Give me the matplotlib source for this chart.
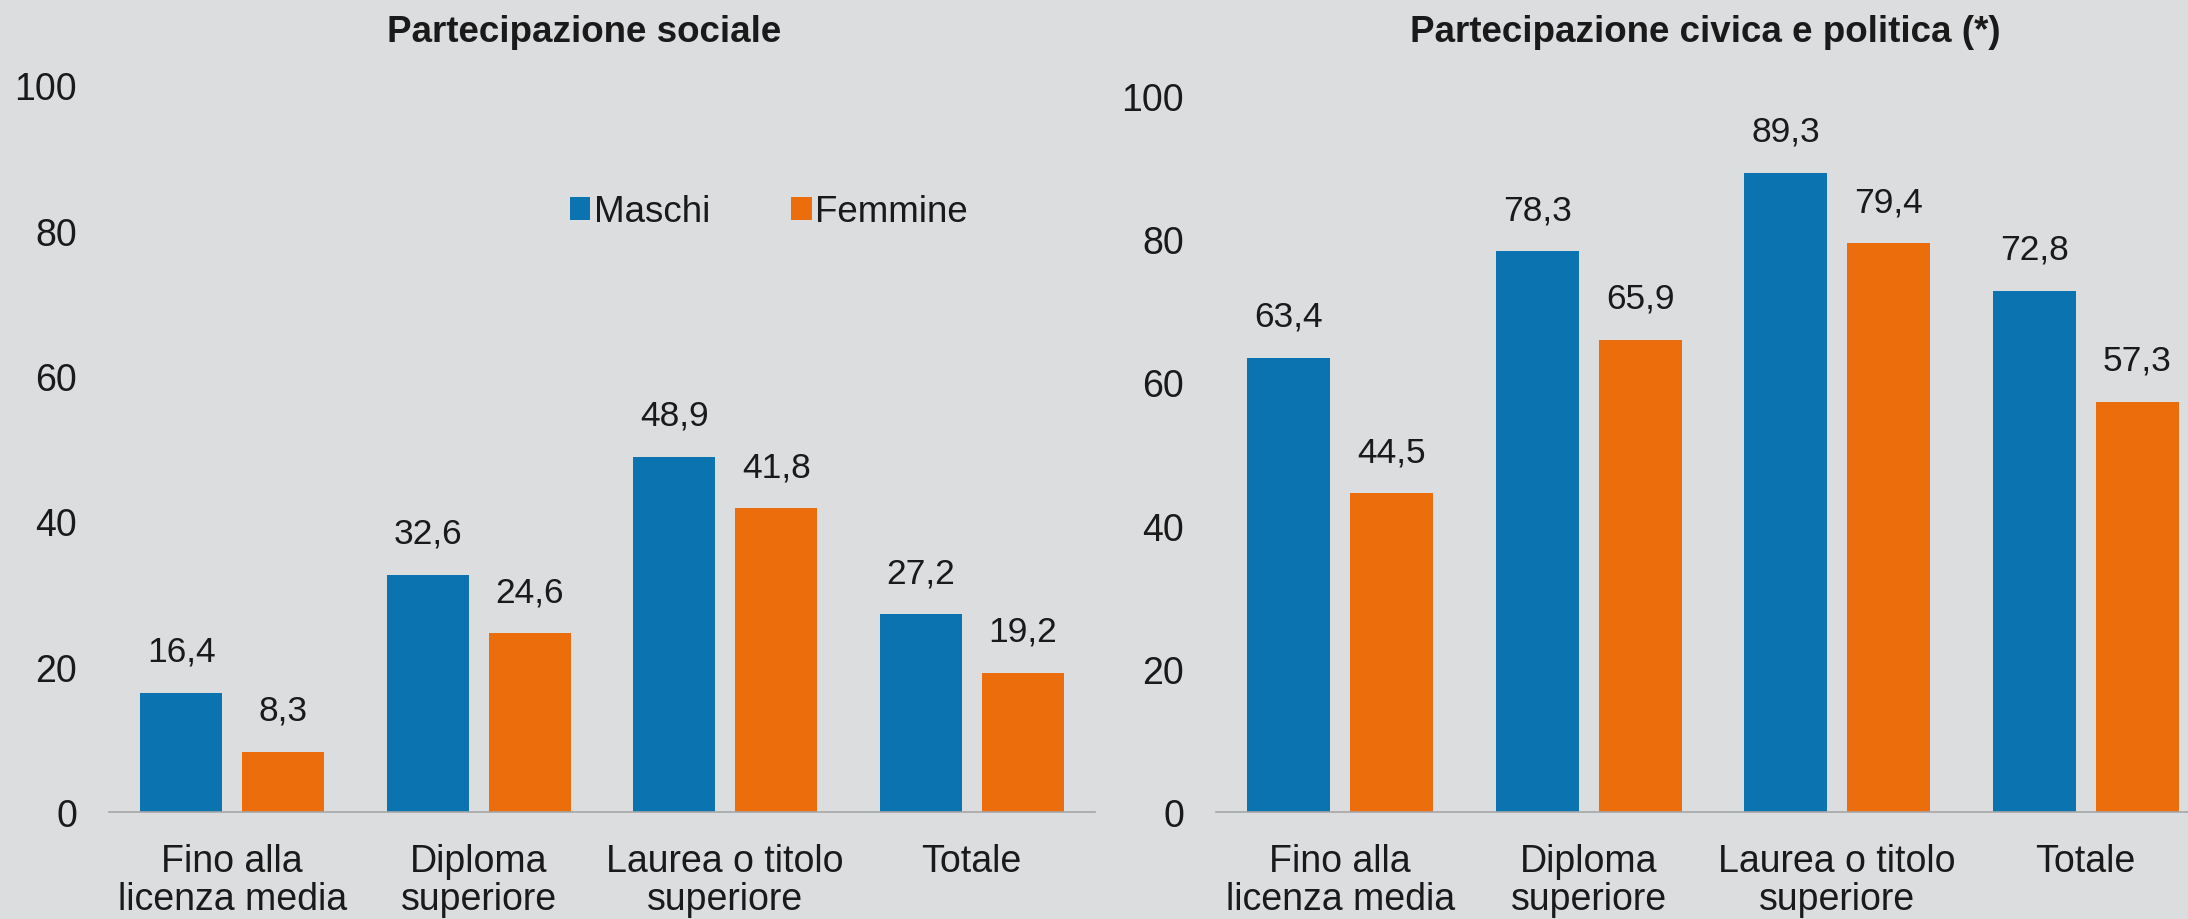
import matplotlib
matplotlib.use("Agg")
import matplotlib.pyplot as plt
import numpy as np

BG_COLOR   = "#dcdddf"
BLUE       = "#0a73b0"
ORANGE     = "#ec6d0b"
TEXT_COLOR = "#1a1a1a"
AXIS_COLOR = "#a6a6a6"

categories = ["Fino alla\nlicenza media", "Diploma\nsuperiore",
              "Laurea o titolo\nsuperiore", "Totale"]
sociale_maschi  = [16.4, 32.6, 48.9, 27.2]
sociale_femmine = [8.3, 24.6, 41.8, 19.2]
civica_maschi   = [63.4, 78.3, 89.3, 72.8]
civica_femmine  = [44.5, 65.9, 79.4, 57.3]
y_ticks = [0, 20, 40, 60, 80, 100]

plt.rcParams["font.family"] = ["Liberation Sans", "DejaVu Sans"]

W, H = 2188, 920
fig = plt.figure(figsize=(W / 100, H / 100), dpi=100, facecolor=BG_COLOR)


def px_axes(left, right, top, bottom):
    return fig.add_axes([left / W, 1 - bottom / H, (right - left) / W, (bottom - top) / H])


def draw_panel(ax, maschi, femmine):
    x = np.arange(len(categories))
    bw, off = 0.333, 0.207
    b1 = ax.bar(x - off, maschi, bw, color=BLUE, label="Maschi")
    b2 = ax.bar(x + off, femmine, bw, color=ORANGE, label="Femmine")
    for bars, vals in ((b1, maschi), (b2, femmine)):
        for rect, v in zip(bars, vals):
            ax.annotate(f"{v:.1f}".replace(".", ","),
                        xy=(rect.get_x() + rect.get_width() / 2, v),
                        xytext=(0, 30), textcoords="offset points",
                        ha="center", va="center", fontsize=25.5, color=TEXT_COLOR)
    ax.set_facecolor(BG_COLOR)
    ax.set_xlim(-0.5, len(categories) - 0.5)
    ax.set_ylim(0, 100)
    ax.set_yticks(y_ticks)
    ax.set_xticks(x)
    ax.set_xticklabels(categories, linespacing=1.07)
    ax.tick_params(axis="both", length=0, labelsize=27, colors=TEXT_COLOR)
    ax.tick_params(axis="y", pad=23)
    ax.tick_params(axis="x", pad=22)
    for s in ("top", "right", "left"):
        ax.spines[s].set_visible(False)
    ax.spines["bottom"].set_color(AXIS_COLOR)
    ax.spines["bottom"].set_linewidth(1.2)
    return b1, b2


# ── Partecipazione sociale ──────────────────────────────────────────
ax1 = px_axes(109, 1095, 86.5, 813)
h1, h2 = draw_panel(ax1, sociale_maschi, sociale_femmine)
fig.text(584 / W, 1 - 32 / H, "Partecipazione sociale", ha="center", va="center",
         fontsize=26.5, fontweight="bold", color=TEXT_COLOR)

fig.legend(handles=[h1, h2], labels=["Maschi", "Femmine"], loc="center left",
           bbox_to_anchor=(570 / W, 1 - 213 / H), ncol=2, frameon=False,
           fontsize=26.5, handlelength=0.55, handleheight=0.55, handletextpad=0.1,
           columnspacing=2.2, borderpad=0, borderaxespad=0, labelcolor=TEXT_COLOR)

# ── Partecipazione civica e politica ────────────────────────────────
ax2 = px_axes(1216, 2210, 97, 813)
draw_panel(ax2, civica_maschi, civica_femmine)
fig.text(1705 / W, 1 - 33 / H, "Partecipazione civica e politica (*)", ha="center",
         va="center", fontsize=26.5, fontweight="bold", color=TEXT_COLOR)

fig.savefig("out.png", dpi=100, facecolor=BG_COLOR)
